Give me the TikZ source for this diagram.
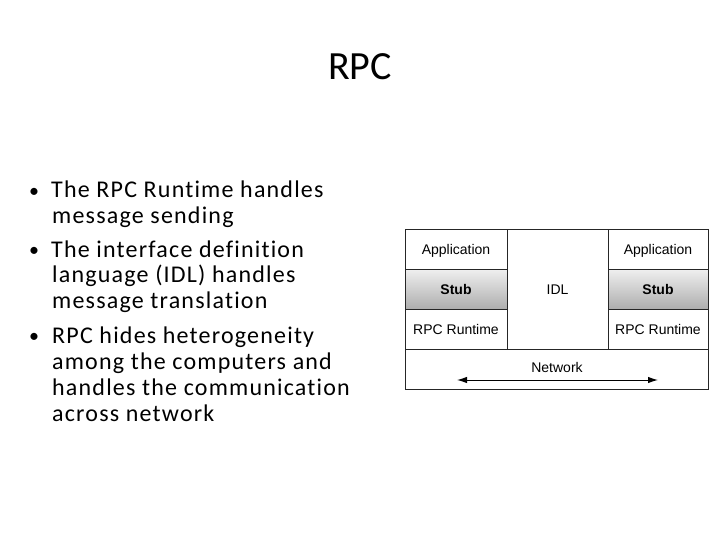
\documentclass[tikz,border=0pt]{standalone}
\usepackage{fontspec}
\setmainfont{Carlito}
\newfontfamily\diagfont{Liberation Sans}
\newfontfamily\bodyfont[LetterSpace=5,Ligatures=NoCommon]{Carlito}
\usetikzlibrary{arrows.meta}
\begin{document}
\begin{tikzpicture}[x=1pt,y=-1pt,
  cell/.style={draw=black!85, line width=1pt, inner sep=0pt,
    font=\diagfont\fontsize{14}{16}\selectfont, text height=10pt, text depth=0pt},
  stubcell/.style={cell, top color=black!6, bottom color=black!32,
    font=\diagfont\bfseries\fontsize{14}{16}\selectfont},
  bodyline/.style={anchor=base west, inner sep=0pt, font=\bodyfont\fontsize{24}{26}\selectfont},
  bulletmark/.style={anchor=base west, inner sep=0pt, font=\fontsize{20}{24}\selectfont},
  arr/.style={{Latex[length=10pt,width=6.5pt]}-{Latex[length=10pt,width=6.5pt]}, line width=1pt, draw=black}
]
\useasboundingbox (0,0) rectangle (720,540);
\fill[white] (0,0) rectangle (720,540);

% title
\node (title) at (360,80) [anchor=base, inner sep=0pt, font=\fontsize{40}{48}\selectfont] {RPC};

% bullets
\node (b1) at (29,197) [bulletmark] {•};
\node (l1) at (51,198) [bodyline] {The RPC Runtime handles};
\node (l2) at (52,223) [bodyline] {message sending};
\node (b2) at (29,256) [bulletmark] {•};
\node (l3) at (51,257) [bodyline] {The interface definition};
\node (l4) at (52,282) [bodyline] {language (IDL) handles};
\node (l5) at (52,308) [bodyline] {message translation};
\node (b3) at (29,342) [bulletmark] {•};
\node (l6) at (52,343) [bodyline] {RPC hides heterogeneity};
\node (l7) at (52,369) [bodyline] {among the computers and};
\node (l8) at (52,395) [bodyline] {handles the communication};
\node (l9) at (52,421) [bodyline] {across network};

% diagram cells
\node (appL) at (456,249.5) [cell, minimum width=102pt, minimum height=39pt] {Application};
\node (stubL) at (456,289) [stubcell, minimum width=102pt, minimum height=40pt] {Stub};
\node (rtL) at (456,329) [cell, minimum width=102pt, minimum height=40pt] {RPC Runtime};
\node (idl) at (557.5,289.5) [cell, minimum width=101pt, minimum height=119pt] {IDL};
\node (appR) at (658,249.5) [cell, minimum width=100pt, minimum height=39pt] {Application};
\node (stubR) at (658,289) [stubcell, minimum width=100pt, minimum height=40pt] {Stub};
\node (rtR) at (658,329) [cell, minimum width=100pt, minimum height=40pt] {RPC Runtime};
\node (net) at (556.5,369) [cell, minimum width=303pt, minimum height=40pt] {};
\node (netlabel) at (557,367) [cell, draw=none] {Network};

\coordinate (aL) at (457,380);
\coordinate (aR) at (658,380);
\draw[arr] (aL) -- (aR);
\end{tikzpicture}
\end{document}
